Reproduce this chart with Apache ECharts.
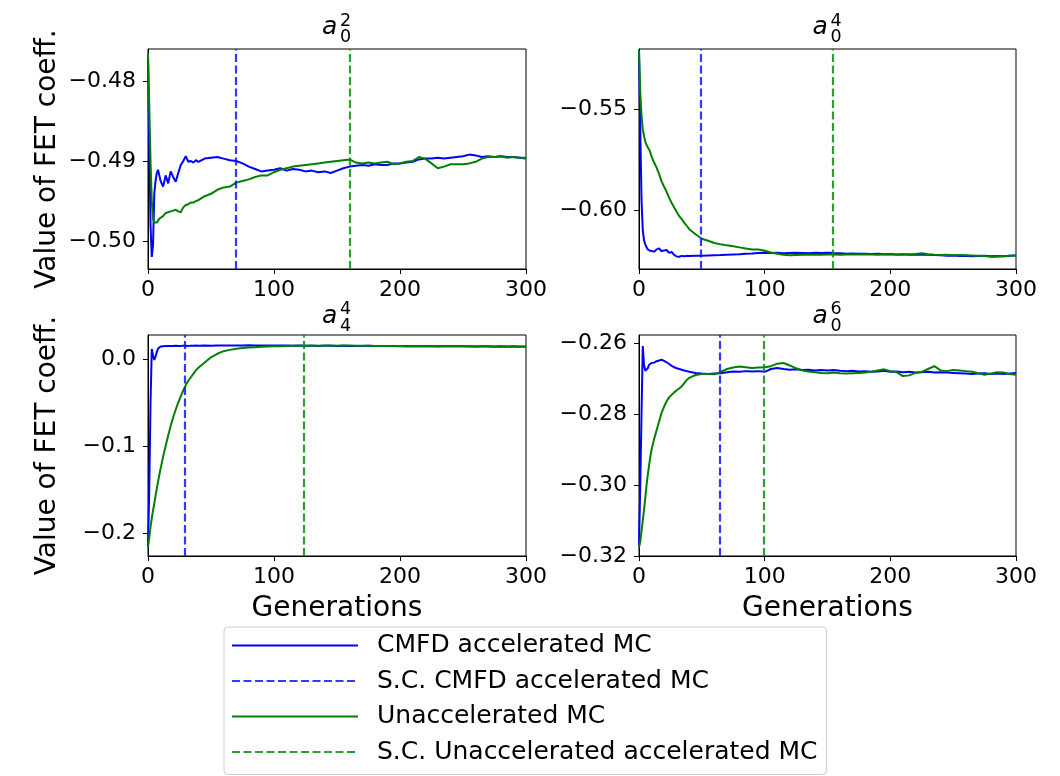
<!DOCTYPE html>
<html><head><meta charset="utf-8">
<script src="https://cdn.jsdelivr.net/npm/echarts@6/dist/echarts.min.js"></script>
<style>html,body{margin:0;padding:0;background:#fff}#c{width:1060px;height:776px}</style>
</head><body><div id="c"></div>
<script>
// ---------- data ----------
const generations = [0,1,2,3,4,5,6,7,8,9,10,
  12,14,16,18,20,22,24,26,28,30,32,34,36,38,40,
  45,50,55,60,65,70,75,80,85,90,95,100,
  105,110,115,120,125,130,135,140,145,150,155,160,
  165,170,175,180,185,190,195,200,205,210,215,220,
  225,230,235,240,245,250,255,260,265,270,275,280,
  285,290,295,300];

const seriesNames = ['CMFD accelerated MC','S.C. CMFD accelerated MC','Unaccelerated MC','S.C. Unaccelerated accelerated MC'];
const titleSub = ['0','0','4','0'];
const titleSup = ['2','4','4','6'];
const xTicks = [0,100,200,300];

const yTicksA02 = [-0.50,-0.49,-0.48];
const yTicksA04 = [-0.60,-0.55];
const yTicksA44 = [-0.2,-0.1,0.0];
const yTicksA06 = [-0.32,-0.30,-0.28,-0.26];

const scCmfd = [70, 49, 29, 64];
const scUnacc = [160, 154, 124, 99];

// a_0^2
const a02Cmfd = [-0.4770,-0.4880,-0.4980,-0.5020,-0.5005,-0.4940,-0.4925,-0.4915,-0.4911,-0.4918,-0.4925,
  -0.4932,-0.4918,-0.4928,-0.4913,-0.4920,-0.4926,-0.4915,-0.4905,-0.4900,-0.4894,-0.4901,-0.4900,-0.4902,-0.4899,-0.4901,
  -0.4897,-0.4896,-0.4895,-0.4897,-0.4899,-0.4900,-0.4903,-0.4907,-0.4910,-0.4913,-0.4912,-0.4911,
  -0.4909,-0.4912,-0.4910,-0.4911,-0.4913,-0.4912,-0.4914,-0.4913,-0.4915,-0.4912,-0.4909,-0.4907,
  -0.4906,-0.4905,-0.4906,-0.4904,-0.4905,-0.4905,-0.4903,-0.4903,-0.4902,-0.4901,-0.4898,-0.4897,
  -0.4897,-0.4896,-0.4897,-0.4896,-0.4895,-0.4894,-0.4892,-0.4893,-0.4895,-0.4894,-0.4895,-0.4894,
  -0.4895,-0.4895,-0.4896,-0.4897];
const a02Unacc = [-0.4765,-0.4830,-0.4900,-0.4950,-0.4972,-0.4977,-0.4978,-0.4977,-0.4975,-0.4972,-0.4970,
  -0.4969,-0.4965,-0.4964,-0.4963,-0.4962,-0.4961,-0.4963,-0.4964,-0.4958,-0.4955,-0.4954,-0.4952,-0.4952,-0.4950,-0.4949,
  -0.4944,-0.4941,-0.4936,-0.4933,-0.4932,-0.4927,-0.4925,-0.4923,-0.4920,-0.4918,-0.4918,-0.4914,
  -0.4911,-0.4909,-0.4907,-0.4906,-0.4905,-0.4904,-0.4903,-0.4902,-0.4901,-0.4900,-0.4899,-0.4898,
  -0.4902,-0.4903,-0.4902,-0.4903,-0.4902,-0.4901,-0.4904,-0.4903,-0.4901,-0.4900,-0.4895,-0.4897,
  -0.4903,-0.4909,-0.4907,-0.4904,-0.4904,-0.4904,-0.4903,-0.4901,-0.4897,-0.4895,-0.4895,-0.4894,
  -0.4896,-0.4895,-0.4896,-0.4896];

// a_0^4
const a04Cmfd = [-0.5210,-0.5600,-0.5950,-0.6100,-0.6150,-0.6170,-0.6185,-0.6195,-0.6198,-0.6202,-0.6205,
  -0.6206,-0.6195,-0.6190,-0.6204,-0.6200,-0.6198,-0.6212,-0.6208,-0.6222,-0.6230,-0.6231,-0.6227,-0.6229,-0.6227,-0.6228,
  -0.6227,-0.6226,-0.6225,-0.6224,-0.6223,-0.6221,-0.6220,-0.6219,-0.6216,-0.6215,-0.6213,-0.6212,
  -0.6213,-0.6212,-0.6214,-0.6213,-0.6212,-0.6213,-0.6214,-0.6212,-0.6213,-0.6211,-0.6213,-0.6214,
  -0.6216,-0.6215,-0.6217,-0.6216,-0.6218,-0.6217,-0.6219,-0.6218,-0.6220,-0.6219,-0.6221,-0.6220,
  -0.6222,-0.6221,-0.6223,-0.6224,-0.6226,-0.6225,-0.6228,-0.6227,-0.6229,-0.6228,-0.6227,-0.6229,
  -0.6228,-0.6229,-0.6226,-0.6225];
const a04Unacc = [-0.5210,-0.5420,-0.5530,-0.5600,-0.5635,-0.5660,-0.5678,-0.5690,-0.5700,-0.5715,-0.5735,
  -0.5765,-0.5790,-0.5822,-0.5858,-0.5885,-0.5910,-0.5940,-0.5965,-0.5988,-0.6010,-0.6030,-0.6045,-0.6062,-0.6078,-0.6095,
  -0.6120,-0.6142,-0.6152,-0.6163,-0.6170,-0.6175,-0.6179,-0.6185,-0.6190,-0.6195,-0.6196,-0.6202,
  -0.6210,-0.6216,-0.6222,-0.6224,-0.6223,-0.6222,-0.6221,-0.6222,-0.6221,-0.6220,-0.6220,-0.6221,
  -0.6220,-0.6219,-0.6220,-0.6219,-0.6220,-0.6221,-0.6220,-0.6219,-0.6222,-0.6220,-0.6219,-0.6218,
  -0.6214,-0.6219,-0.6222,-0.6223,-0.6222,-0.6224,-0.6223,-0.6224,-0.6225,-0.6226,-0.6228,-0.6232,
  -0.6230,-0.6229,-0.6227,-0.6225];

// a_4^4
const a44Cmfd = [-0.2160,-0.1500,-0.0500,0.0115,0.0040,-0.0010,0.0030,0.0080,0.0120,0.0140,0.0145,
  0.0148,0.0150,0.0149,0.0151,0.0150,0.0152,0.0150,0.0151,0.0153,0.0152,0.0151,0.0153,0.0152,0.0154,0.0153,
  0.0154,0.0153,0.0155,0.0154,0.0156,0.0155,0.0156,0.0157,0.0156,0.0155,0.0156,0.0155,
  0.0154,0.0155,0.0153,0.0154,0.0152,0.0153,0.0151,0.0152,0.0153,0.0151,0.0152,0.0150,
  0.0151,0.0150,0.0152,0.0151,0.0150,0.0149,0.0150,0.0148,0.0149,0.0147,0.0148,0.0149,
  0.0147,0.0148,0.0146,0.0147,0.0148,0.0146,0.0147,0.0145,0.0146,0.0147,0.0145,0.0146,
  0.0145,0.0146,0.0144,0.0145];
const a44Unacc = [-0.2160,-0.2050,-0.1930,-0.1830,-0.1740,-0.1660,-0.1570,-0.1490,-0.1410,-0.1330,-0.1260,
  -0.1120,-0.1000,-0.0880,-0.0770,-0.0670,-0.0580,-0.0500,-0.0430,-0.0360,-0.0300,-0.0250,-0.0210,-0.0170,-0.0130,-0.0100,
  -0.0040,0.0020,0.0060,0.0090,0.0105,0.0118,0.0126,0.0132,0.0136,0.0140,0.0143,0.0146,
  0.0148,0.0150,0.0152,0.0153,0.0152,0.0154,0.0153,0.0155,0.0154,0.0153,0.0155,0.0154,
  0.0153,0.0152,0.0153,0.0151,0.0150,0.0151,0.0149,0.0150,0.0148,0.0146,0.0147,0.0148,
  0.0146,0.0145,0.0147,0.0146,0.0148,0.0147,0.0145,0.0144,0.0145,0.0143,0.0142,0.0143,
  0.0141,0.0142,0.0140,0.0141];

// a_0^6
const a06Cmfd = [-0.3170,-0.3000,-0.2800,-0.2607,-0.2660,-0.2677,-0.2682,-0.2670,-0.2660,-0.2656,-0.2655,
  -0.2654,-0.2650,-0.2648,-0.2646,-0.2649,-0.2653,-0.2658,-0.2663,-0.2667,-0.2670,-0.2672,-0.2674,-0.2676,-0.2678,-0.2680,
  -0.2683,-0.2685,-0.2686,-0.2685,-0.2684,-0.2681,-0.2679,-0.2680,-0.2678,-0.2679,-0.2678,-0.2680,
  -0.2672,-0.2669,-0.2672,-0.2674,-0.2673,-0.2675,-0.2674,-0.2676,-0.2675,-0.2676,-0.2675,-0.2677,
  -0.2678,-0.2677,-0.2679,-0.2678,-0.2680,-0.2679,-0.2677,-0.2680,-0.2679,-0.2681,-0.2680,-0.2682,
  -0.2681,-0.2680,-0.2682,-0.2681,-0.2682,-0.2683,-0.2684,-0.2685,-0.2686,-0.2685,-0.2684,-0.2686,
  -0.2685,-0.2686,-0.2685,-0.2683];
const a06Unacc = [-0.3175,-0.3160,-0.3130,-0.3100,-0.3070,-0.3035,-0.3000,-0.2970,-0.2945,-0.2920,-0.2900,
  -0.2870,-0.2845,-0.2820,-0.2795,-0.2778,-0.2763,-0.2752,-0.2745,-0.2738,-0.2732,-0.2727,-0.2721,-0.2712,-0.2703,-0.2697,
  -0.2689,-0.2686,-0.2686,-0.2687,-0.2680,-0.2672,-0.2668,-0.2665,-0.2667,-0.2669,-0.2668,-0.2667,
  -0.2664,-0.2657,-0.2655,-0.2662,-0.2670,-0.2676,-0.2679,-0.2681,-0.2683,-0.2684,-0.2682,-0.2684,
  -0.2685,-0.2684,-0.2683,-0.2682,-0.2680,-0.2676,-0.2673,-0.2678,-0.2681,-0.2692,-0.2690,-0.2683,
  -0.2680,-0.2672,-0.2664,-0.2676,-0.2678,-0.2675,-0.2676,-0.2678,-0.2680,-0.2684,-0.2688,-0.2685,
  -0.2681,-0.2682,-0.2686,-0.2688];

// ---------- layout / style ----------
const FONT = '"DejaVu Sans", "Liberation Sans", sans-serif';
const BLUE = '#0000ff', GREEN = '#008000';
const BLUE_D = 'rgba(20,20,255,0.85)', GREEN_D = 'rgba(10,140,10,0.85)';
const DASH = [8, 3.5];
const LW = 2, LWD = 2.2;

const panels = [
  {grid:{left:148, top:49, width:378, height:220}, cmfd:a02Cmfd, unacc:a02Unacc, ticks:yTicksA02, min:-0.5035, max:-0.4760, dec:2, yName:true, xName:false, tTop:true},
  {grid:{left:639, top:49, width:377, height:220}, cmfd:a04Cmfd, unacc:a04Unacc, ticks:yTicksA04, min:-0.6292, max:-0.5203, dec:2, yName:false, xName:false, tTop:true},
  {grid:{left:148, top:335, width:378, height:221}, cmfd:a44Cmfd, unacc:a44Unacc, ticks:yTicksA44, min:-0.2264, max:0.0276, dec:1, yName:true, xName:true, tTop:false},
  {grid:{left:639, top:335, width:377, height:221}, cmfd:a06Cmfd, unacc:a06Unacc, ticks:yTicksA06, min:-0.3200, max:-0.2576, dec:2, yName:false, xName:true, tTop:false}
];

const pairs = vals => generations.map((g, k) => [g, vals[k]]);
const fmt = dec => v => v.toFixed(dec).replace('-', '\u2212');

const grids = [], xAxes = [], yAxes = [], series = [], graphics = [];
panels.forEach((p, i) => {
  grids.push(Object.assign({show:true, borderColor:'#000', borderWidth:1, backgroundColor:'#fff'}, p.grid));
  xAxes.push({
    type:'value', gridIndex:i, min:0, max:300, interval:100,
    axisLine:{show:true, onZero:false, lineStyle:{color:'#000', width:1}},
    axisTick:{show:true, length:5, lineStyle:{color:'#000'}},
    splitLine:{show:false},
    axisLabel:{color:'#000', fontFamily:FONT, fontSize:22, margin:10, customValues:xTicks},
    name: p.xName ? 'Generations' : '', nameLocation:'middle', nameGap:39,
    nameTextStyle:{color:'#000', fontFamily:FONT, fontSize:28}
  });
  yAxes.push({
    type:'value', gridIndex:i, min:p.min, max:p.max,
    axisLine:{show:true, onZero:false, lineStyle:{color:'#000', width:1}},
    axisTick:{show:true, length:5, lineStyle:{color:'#000'}, customValues:p.ticks},
    splitLine:{show:false},
    axisLabel:{color:'#000', fontFamily:FONT, fontSize:22, margin:12, customValues:p.ticks, formatter:fmt(p.dec)},
    name: p.yName ? 'Value of FET coeff.' : '', nameLocation:'middle', nameGap:86,
    nameTextStyle:{color:'#000', fontFamily:FONT, fontSize:28}
  });
  series.push({name:seriesNames[0], type:'line', xAxisIndex:i, yAxisIndex:i, data:pairs(p.cmfd), symbol:'none', showSymbol:false,
    lineStyle:{color:BLUE, width:LW}, itemStyle:{color:BLUE}, z:2});
  series.push({name:seriesNames[1], type:'line', xAxisIndex:i, yAxisIndex:i, data:[], symbol:'none', showSymbol:false,
    lineStyle:{color:BLUE_D, width:LWD, type:DASH}, itemStyle:{color:BLUE_D}, z:3,
    markLine:{silent:true, symbol:['none','none'], label:{show:false}, lineStyle:{color:BLUE_D, width:LWD, type:DASH}, data:[{xAxis:scCmfd[i]}]}});
  series.push({name:seriesNames[2], type:'line', xAxisIndex:i, yAxisIndex:i, data:pairs(p.unacc), symbol:'none', showSymbol:false,
    lineStyle:{color:GREEN, width:LW}, itemStyle:{color:GREEN}, z:4});
  series.push({name:seriesNames[3], type:'line', xAxisIndex:i, yAxisIndex:i, data:[], symbol:'none', showSymbol:false,
    lineStyle:{color:GREEN_D, width:LWD, type:DASH}, itemStyle:{color:GREEN_D}, z:5,
    markLine:{silent:true, symbol:['none','none'], label:{show:false}, lineStyle:{color:GREEN_D, width:LWD, type:DASH}, data:[{xAxis:scUnacc[i]}]}});

  // panel title a_sub^sup
  const cx = p.grid.left + p.grid.width / 2;
  const base = p.tTop ? 35 : 324;
  const supB = p.tTop ? 27 : 315;
  const subB = p.tTop ? 43 : 332;
  graphics.push({type:'text', x:cx - 15, y:base - 0.297*25, style:{text:'a', fontFamily:FONT, fontStyle:'italic', fontSize:25, fill:'#000', align:'left', verticalAlign:'middle'}});
  graphics.push({type:'text', x:cx + 3, y:supB - 0.297*17.5, style:{text:titleSup[i], fontFamily:FONT, fontSize:17.5, fill:'#000', align:'left', verticalAlign:'middle'}});
  graphics.push({type:'text', x:cx + 3, y:subB - 0.297*17.5, style:{text:titleSub[i], fontFamily:FONT, fontSize:17.5, fill:'#000', align:'left', verticalAlign:'middle'}});
});

const chart = echarts.init(document.getElementById('c'), null, {renderer:'canvas'});
chart.setOption({
  animation:false,
  backgroundColor:'#fff',
  grid:grids, xAxis:xAxes, yAxis:yAxes, series:series, graphic:graphics,
  legend:{
    data:seriesNames, orient:'vertical', left:224, top:627,
    padding:[6,9,10,7], itemWidth:126, itemHeight:14, itemGap:10.5,
    borderColor:'#cccccc', borderWidth:1, borderRadius:4, backgroundColor:'#fff',
    selectedMode:false,
    itemStyle:{color:'rgba(0,0,0,0)', borderColor:'rgba(0,0,0,0)', borderWidth:0, opacity:0},
    textStyle:{fontFamily:FONT, fontSize:25, color:'#000', padding:[0,0,0,14]}
  }
});
</script></body></html>
